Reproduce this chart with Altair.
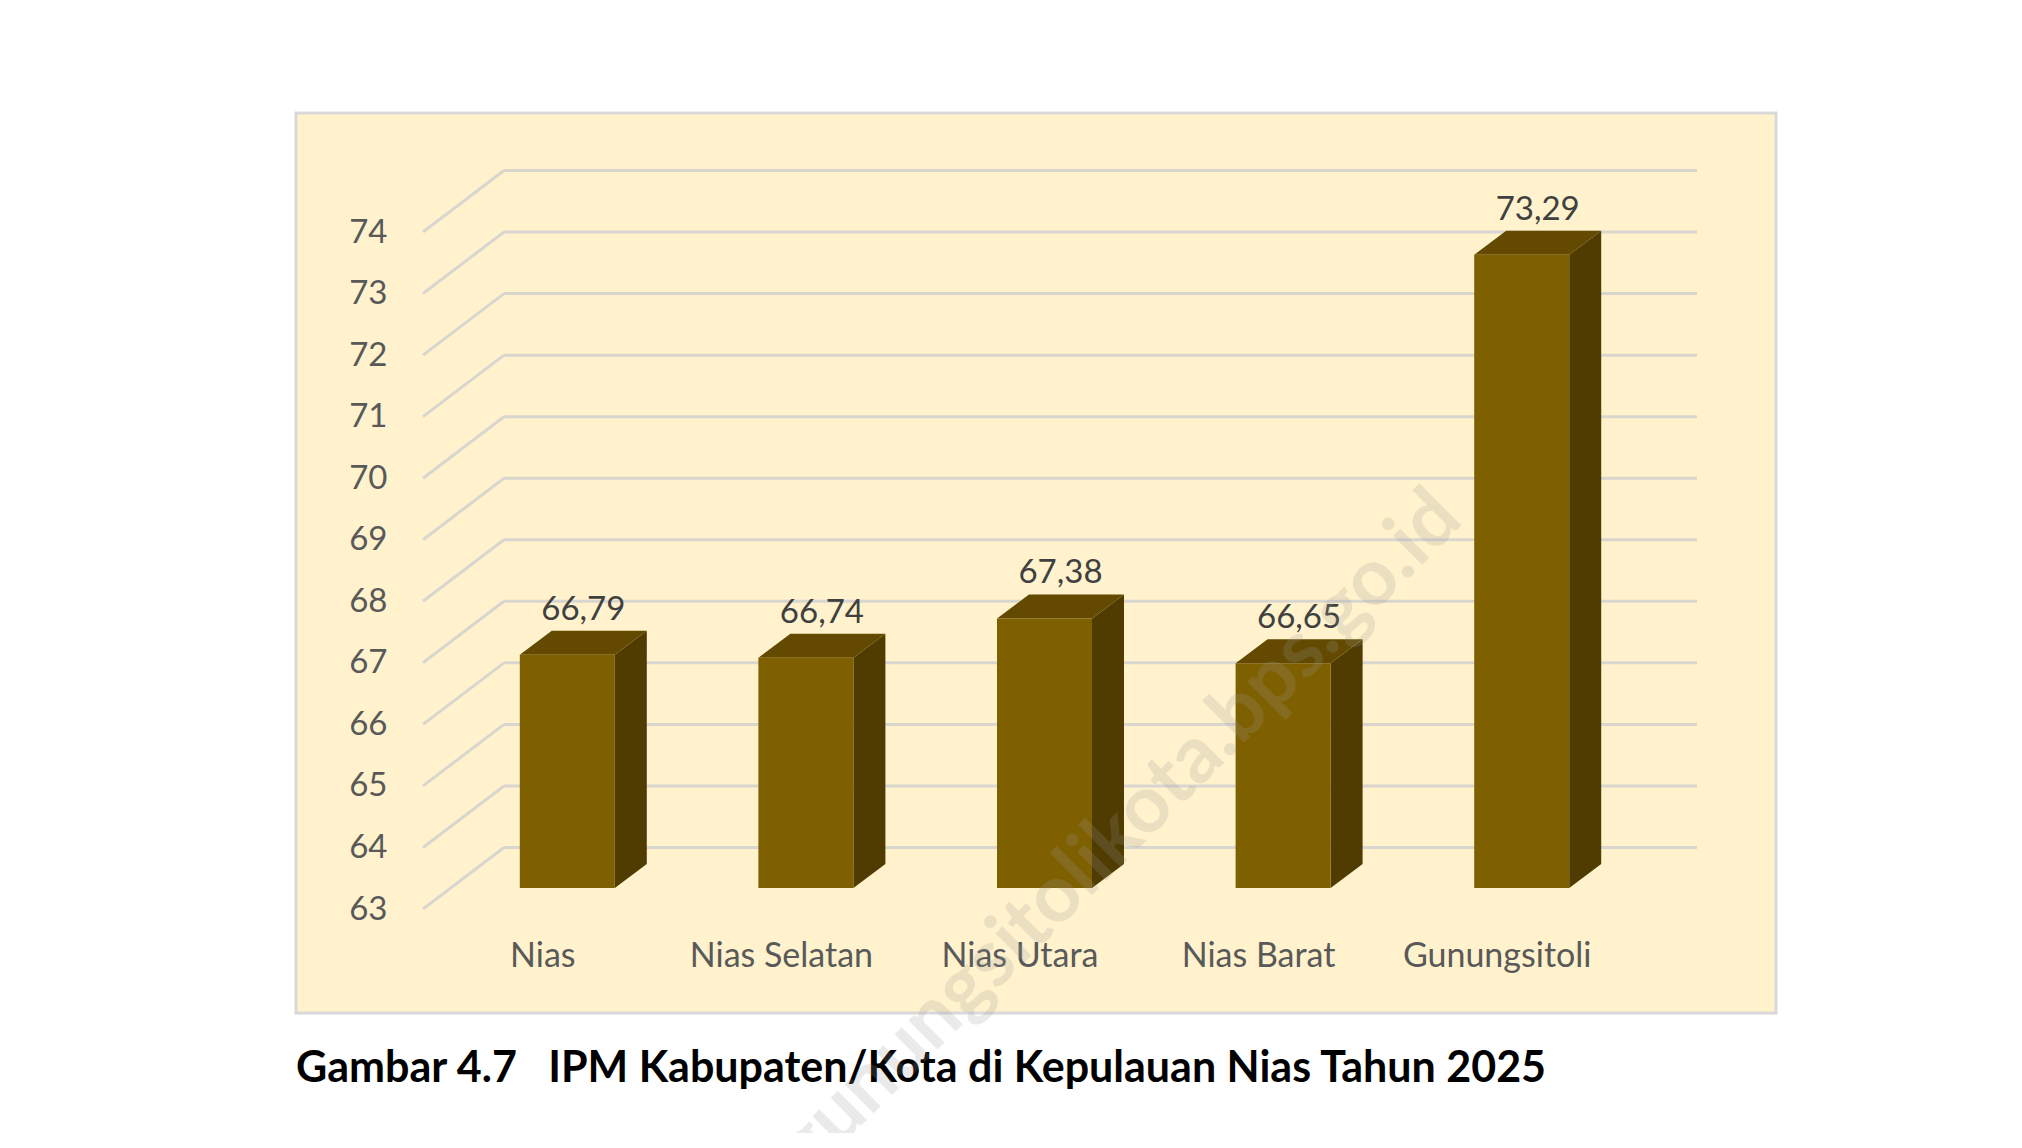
import json
import altair as alt
import pandas as pd

# ---------------- data ----------------
categories = ["Nias", "Nias Selatan", "Nias Utara", "Nias Barat", "Gunungsitoli"]
values = [66.79, 66.74, 67.38, 66.65, 73.29]
y_ticks = [63, 64, 65, 66, 67, 68, 69, 70, 71, 72, 73, 74]
caption = "Gambar 4.7\u00a0\u00a0\u00a0IPM Kabupaten/Kota di Kepulauan Nias Tahun 2025"
watermark = "gunungsitolikota.bps.go.id"

# ---------------- layout / style ----------------
W, H = 1480, 900                  # plot area (= chart frame)
X_RANGE = [127, 1320]             # pixel range for category index -0.5 .. 4.5
Y_RANGE = [796, 119]              # pixel range for 63 .. 74
PX_X = (X_RANGE[1] - X_RANGE[0]) / 5.0
PX_Y = (Y_RANGE[0] - Y_RANGE[1]) / float(y_ticks[-1] - y_ticks[0])

SHIFT_X = 25      # bar front-face centre to right of label centre (px)
BAR_W = 95        # bar front width (px)
ELEV = 21         # bar front face raised above front plane (px)
DEPTH_X, DEPTH_Y = 32, 24   # bar depth (px)
WALL_X, WALL_Y = 81, 61.5   # back-wall offset (px)
GRID_END = 1401             # right end of back gridlines (px)

FRONT = "#7F6000"
SIDE = "#503C00"
TOP = "#634A00"
GRID = "#D9D6D0"
FONT = "Lato"

ux = lambda px: px / PX_X
uy = lambda px: px / PX_Y
base = y_ticks[0]

# bars (front faces)
bars = pd.DataFrame({"name": categories, "i": list(range(len(categories))), "v": values})
bars["xl"] = bars["i"] + ux(SHIFT_X - BAR_W / 2)
bars["xr"] = bars["i"] + ux(SHIFT_X + BAR_W / 2)
bars["yt"] = bars["v"] + uy(ELEV)
bars["yb"] = base + uy(ELEV)
bars["lab"] = [f"{v:.2f}".replace(".", ",") for v in values]

# side faces (2 points per bar)
side_rows = []
for _, r in bars.iterrows():
    for k in (0, 1):
        side_rows.append({"name": r["name"], "x": r["xr"] + k * ux(DEPTH_X),
                          "y": r["yt"] + k * uy(DEPTH_Y), "y2": r["yb"] + k * uy(DEPTH_Y)})
side = pd.DataFrame(side_rows)

# top faces (4 points per bar)
top_rows = []
for _, r in bars.iterrows():
    T, D, dx = r["yt"], uy(DEPTH_Y), ux(DEPTH_X)
    pts = [(r["xl"], T, T), (r["xl"] + dx, T + D, T), (r["xr"], T + D, T), (r["xr"] + dx, T + D, T + D)]
    for x, yt, yb in pts:
        top_rows.append({"name": r["name"], "x": x, "y": yt, "y2": yb})
top = pd.DataFrame(top_rows)

# gridlines
grid = pd.DataFrame({"t": y_ticks})
grid["xf"] = -0.5
grid["xb"] = -0.5 + ux(WALL_X)
grid["xe"] = -0.5 + ux(GRID_END - X_RANGE[0])
grid["yb"] = grid["t"] + uy(WALL_Y)

xscale = alt.Scale(domain=[-0.5, len(categories) - 0.5], range=X_RANGE, nice=False, zero=False)
yscale = alt.Scale(domain=[y_ticks[0], y_ticks[-1]], range=Y_RANGE, nice=False, zero=False)

label_expr = json.dumps(categories) + "[round(datum.value)]"
x_axis = alt.Axis(values=list(range(len(categories))), labelExpr=label_expr, title=None,
                  grid=False, domain=False, ticks=False, tickSize=0, labelPadding=0,
                  offset=-57, labelBaseline="middle", labelFontSize=34, labelFont=FONT,
                  labelColor="#595959", labelFlush=False, labelOverlap=False, labelLimit=0)
y_axis = alt.Axis(values=y_ticks, format="d", title=None, grid=False, domain=False, ticks=False,
                  tickSize=0, labelPadding=0, offset=-91, labelFontSize=33, labelFont=FONT,
                  labelColor="#595959", labelBaseline="middle", labelAlign="right",
                  labelFlush=False, labelOverlap=False, labelLimit=0)

back = alt.Chart(grid).mark_rule(color=GRID, strokeWidth=3).encode(
    x=alt.X("xb:Q", scale=xscale, axis=x_axis), x2="xe:Q",
    y=alt.Y("yb:Q", scale=yscale, axis=y_axis), y2="yb:Q")
diag = alt.Chart(grid).mark_rule(color=GRID, strokeWidth=3).encode(
    x="xf:Q", x2="xb:Q", y="t:Q", y2="yb:Q")

side_l = alt.Chart(side).mark_area(color=SIDE, orient="vertical").encode(
    x="x:Q", y="y:Q", y2="y2:Q", detail="name:N")
top_l = alt.Chart(top).mark_area(color=TOP, orient="vertical").encode(
    x="x:Q", y="y:Q", y2="y2:Q", detail="name:N")
front_l = alt.Chart(bars).mark_rect(color=FRONT).encode(
    x="xl:Q", x2="xr:Q", y="yt:Q", y2="yb:Q")
labels = alt.Chart(bars).mark_text(font=FONT, fontSize=33, color="#404040",
                                   dx=41, dy=-66, baseline="middle").encode(
    x="i:Q", y="v:Q", text="lab:N")

# caption below the frame (text annotation)
cap = alt.Chart(pd.DataFrame({"t": [caption]})).mark_text(
    font=FONT, fontSize=43, fontWeight="bold", color="#000000",
    align="left", baseline="alphabetic").encode(
    x=alt.value(0), y=alt.value(969), text="t:N")

wm = alt.Chart(pd.DataFrame({"t": [watermark]})).mark_text(
    font=FONT, fontSize=80, fontWeight="bold", color="#999999", opacity=0.2,
    angle=315, align="right", baseline="middle").encode(
    x=alt.value(1152), y=alt.value(392), text="t:N")

chart = alt.layer(back, diag, side_l, top_l, front_l, labels, cap, wm).properties(
    width=W, height=H,
    autosize="none",
    padding={"left": 288, "top": 105, "right": 200, "bottom": 120},
    background="#FFFFFF",
).configure_view(fill="#FFF2CC", stroke="#D9D9D9", strokeWidth=3)

chart.save("out.html", embed_options={"renderer": "svg", "actions": False})
